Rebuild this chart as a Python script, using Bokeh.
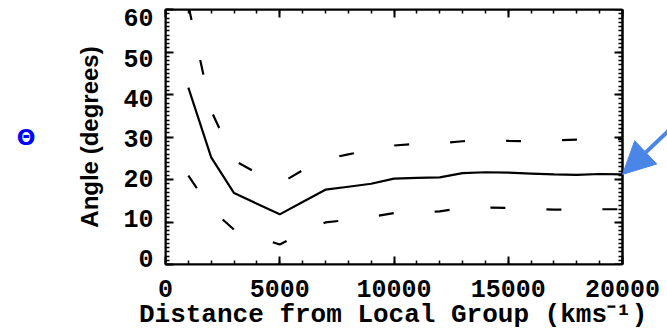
import math
from bokeh.plotting import figure
from bokeh.models import (Range1d, LinearAxis, FixedTicker, Arrow,
                          NormalHead, CustomLabelingPolicy, BoxAnnotation)
from bokeh.embed import file_html
from bokeh.resources import INLINE

# Distance from the Local Group (km/s)
distance = [1000, 2000, 3000, 4000, 5000, 6000, 7000, 8000, 9000, 10000,
            11000, 12000, 13000, 14000, 15000, 16000, 17000, 18000, 19000, 20000]
# Mean misalignment angle and its upper / lower envelope (degrees)
angle = [41.6, 25.2, 16.8, 14.3, 11.8, 14.7, 17.6, 18.3, 19.0, 20.2,
         20.4, 20.5, 21.5, 21.7, 21.6, 21.4, 21.2, 21.1, 21.3, 21.2]
angle_upper = [61.0, 36.2, 24.5, 21.5, 19.0, 22.2, 24.8, 25.9, 27.0, 28.0,
               28.4, 28.5, 29.0, 29.3, 29.1, 29.0, 29.2, 29.4, 29.4, 29.5]
angle_lower = [20.9, 13.0, 8.2, 6.5, 4.7, 7.5, 9.9, 10.5, 11.2, 12.1,
               12.3, 12.5, 13.3, 13.4, 13.3, 13.1, 12.9, 12.9, 13.0, 13.0]

# tick values
x_ticks = [0, 5000, 10000, 15000, 20000]
x_minor_ticks = list(range(0, 20001, 1000))
y_ticks = [0, 10, 20, 30, 40, 50, 60]
y_minor_ticks = list(range(0, 61, 1))

x_label = "Distance from Local Group (kms\u207b\u00b9)"
y_label = "Angle (degrees)"
symbol = "\u0398"

X_START, X_END = 0, 20000
Y_START, Y_END = 0, 60
W, H = 667, 335
LEFT, TOP, BOTTOM = 165, 9, 71
BOX_W = 457                      # width of the boxed 0..20000 region
FRAME_W = W - LEFT               # frame runs on to the right edge for the pointer
FRAME_H = H - TOP - BOTTOM

TICK_FONT = "Liberation Mono"
BLUE = "#4A86E8"

x_view_end = X_START + (X_END - X_START) * FRAME_W / BOX_W

p = figure(width=W, height=H,
           x_range=Range1d(X_START, x_view_end), y_range=Range1d(Y_START, Y_END),
           min_border_left=LEFT, min_border_right=0,
           min_border_top=TOP, min_border_bottom=BOTTOM,
           output_backend="svg", toolbar_location=None)
p.grid.visible = False
p.outline_line_color = None


def tick_style(ax, tick_in=True):
    ax.axis_line_width = 2
    ax.axis_line_color = "black"
    ax.major_tick_line_width = 2
    ax.minor_tick_line_width = 1.5
    if tick_in:
        ax.major_tick_in, ax.major_tick_out = 8, 0
        ax.minor_tick_in, ax.minor_tick_out = 4, 0
    else:
        ax.major_tick_in, ax.major_tick_out = 0, 8
        ax.minor_tick_in, ax.minor_tick_out = 0, 4


def hide_labels(ax):
    ax.major_label_policy = CustomLabelingPolicy(code="return []")
    ax.major_label_text_font_size = "0px"
    ax.major_label_standoff = 0


def label_style(ax):
    ax.major_label_text_font = TICK_FONT
    ax.major_label_text_font_style = "bold"
    ax.major_label_text_font_size = "25px"
    ax.major_label_text_color = "black"


def x_ticker():
    return FixedTicker(ticks=x_ticks, minor_ticks=x_minor_ticks)


def y_ticker():
    return FixedTicker(ticks=y_ticks, minor_ticks=y_minor_ticks)


# bottom axis: ticks, tick labels and title (padded so it sits under the box)
xb = p.xaxis[0]
xb.ticker = x_ticker()
tick_style(xb)
label_style(xb)
xb.bounds = (X_START, X_END)
xb.major_label_standoff = 15
xb.axis_label = x_label + "\u00a0" * 3
xb.axis_label_text_font = TICK_FONT
xb.axis_label_text_font_style = "bold"
xb.axis_label_text_font_size = "26px"
xb.axis_label_text_color = "black"
xb.axis_label_standoff = 0

# top axis: mirrored ticks
top = LinearAxis(ticker=x_ticker(), bounds=(X_START, X_END))
tick_style(top)
hide_labels(top)
p.add_layout(top, "above")

# left axis: ticks only
yl = p.yaxis[0]
yl.ticker = y_ticker()
tick_style(yl)
hide_labels(yl)

# left tick labels, set on a slightly compressed scale
p.extra_y_ranges = {"ylabels": Range1d(-1.5, 62.12)}
ylab = LinearAxis(y_range_name="ylabels", ticker=FixedTicker(ticks=y_ticks))
label_style(ylab)
ylab.axis_line_color = None
ylab.major_tick_line_color = None
ylab.minor_tick_line_color = None
ylab.major_tick_in = 0
ylab.major_tick_out = 0
ylab.major_label_standoff = 12
ylab.axis_label = y_label
ylab.axis_label_text_font = "Liberation Sans"
ylab.axis_label_text_font_style = "bold"
ylab.axis_label_text_font_size = "24px"
ylab.axis_label_text_color = "black"
ylab.axis_label_standoff = 17
p.add_layout(ylab, "left")

# blue symbol, set upright beside the axis title
theta = LinearAxis(axis_label=symbol, axis_label_orientation="horizontal")
theta.axis_line_color = None
theta.major_tick_line_color = None
theta.minor_tick_line_color = None
theta.major_tick_in = 0
theta.major_tick_out = 0
hide_labels(theta)
theta.axis_label_text_font = "DejaVu Sans"
theta.axis_label_text_font_style = "bold"
theta.axis_label_text_font_size = "22px"
theta.axis_label_text_color = "blue"
theta.axis_label_standoff = 34
p.add_layout(theta, "left")

# right edge of the box: axis pinned at the last distance, ticks pointing in
right = LinearAxis(ticker=y_ticker(), fixed_location=X_END)
tick_style(right, tick_in=False)
hide_labels(right)
p.add_layout(right, "left")

# box around the plotted region
p.add_layout(BoxAnnotation(left=X_START, right=X_END, bottom=Y_START, top=Y_END,
                           fill_alpha=0, line_color="black", line_width=2,
                           line_alpha=1))

# mean curve and envelope
p.line(distance, angle, line_color="black", line_width=2.2)
p.line(distance, angle_upper, line_color="black", line_width=2.2,
       line_dash="15 41")
p.line(distance, angle_lower, line_color="black", line_width=2.2,
       line_dash="15 41")

# pointer arrow ending at the last point of the mean curve
ux = (X_END - X_START) / BOX_W        # data units per pixel, x
uy = (Y_END - Y_START) / FRAME_H      # data units per pixel, y
tip_x, tip_y = distance[-1], angle[-1]
dx, dy = 58.0, 55.0                   # pixel direction toward the tail
norm = math.hypot(dx, dy)
tail_len = 110.0
p.add_layout(Arrow(end=NormalHead(size=32, fill_color=BLUE, line_color=BLUE),
                   x_start=tip_x + dx / norm * tail_len * ux,
                   y_start=tip_y + dy / norm * tail_len * uy,
                   x_end=tip_x, y_end=tip_y,
                   line_color=BLUE, line_width=4))

open("out.html", "w").write(file_html(p, INLINE))
